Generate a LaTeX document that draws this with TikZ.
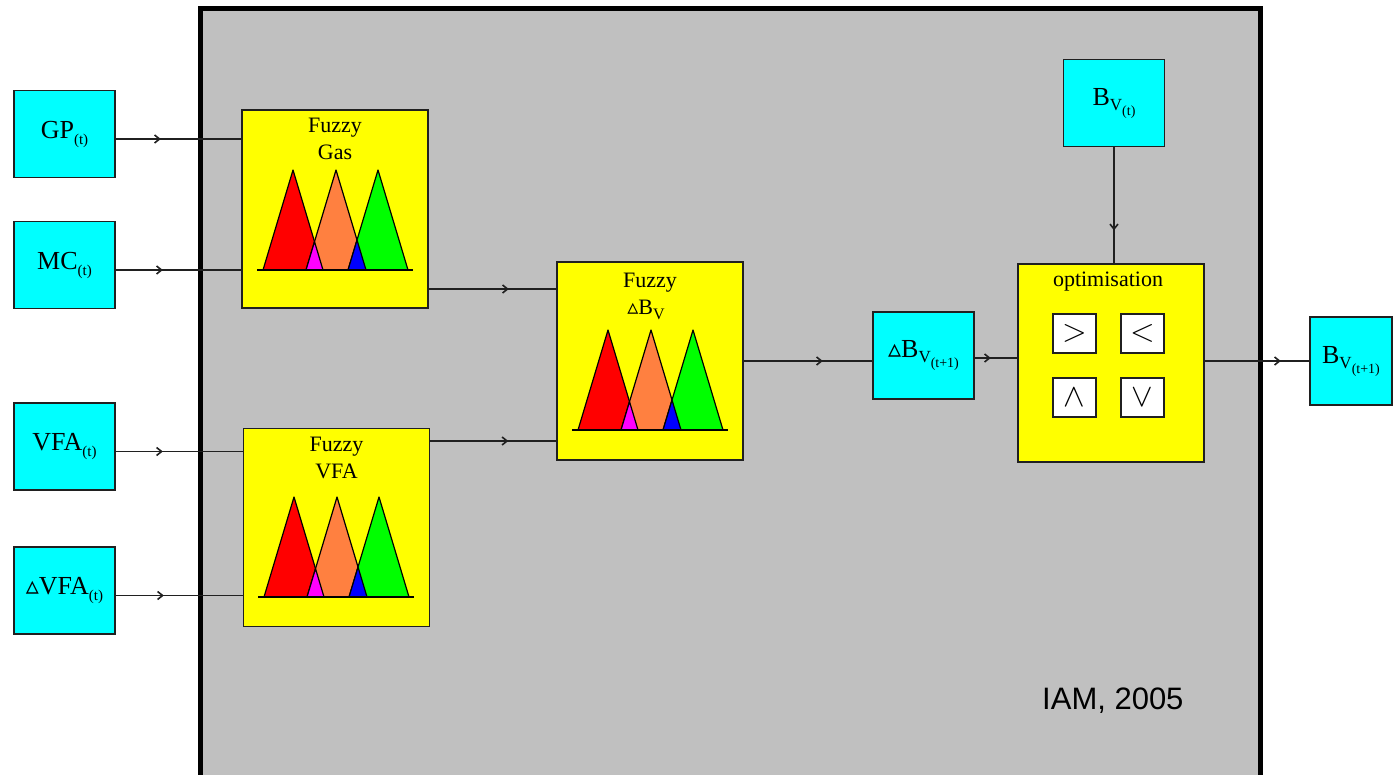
\documentclass[tikz,border=0pt]{standalone}
\usepackage{fontspec}
\usepackage{graphicx}
\setmainfont{Liberation Serif}
\newfontfamily\dejavu{DejaVu Sans}
\newfontfamily\arialf{Liberation Sans}
\usetikzlibrary{arrows.meta,decorations.markings}
\definecolor{cy}{HTML}{00FFFF}
\definecolor{ye}{HTML}{FFFF00}
\definecolor{gr}{HTML}{C0C0C0}
\definecolor{org}{HTML}{FF8040}
\definecolor{grn}{HTML}{00FF00}
\definecolor{mag}{HTML}{FF00FF}
\definecolor{blu}{HTML}{0000FF}
\definecolor{ln}{HTML}{202020}
\newcommand\subsc[1]{\raisebox{-6pt}{\fontsize{15}{15}\selectfont #1}}
\newcommand\dtri{{\dejavu\fontsize{26}{26}\selectfont ▵}}
\newcommand\Bv[1]{B\raisebox{-5pt}{\fontsize{17}{17}\selectfont V}\raisebox{-10pt}{\fontsize{14}{14}\selectfont #1}}
\begin{document}
\begin{tikzpicture}[x=1pt,y=-1pt,
 cyanbox/.style={draw=ln,line width=1.7pt,fill=cy,minimum width=101pt,minimum height=87pt,inner sep=0pt,font=\fontsize{26}{26}\selectfont},
 fzbox/.style={draw=ln,line width=1.7pt,fill=ye,minimum width=186pt,minimum height=198pt,inner sep=0pt},
 wbox/.style={draw=ln,line width=1.5pt,fill=white,minimum width=43pt,minimum height=39pt,inner sep=0pt},
 ttl/.style={anchor=base,inner sep=0pt,font=\fontsize{22}{22}\selectfont},
 conn/.style={draw=ln,line width=1.7pt},
 arr/.style={conn,decoration={markings,mark=at position #1 with {\arrow{Straight Barb[length=5pt,width=8pt,line width=1.6pt]}}},postaction={decorate}},
 tri/.style={draw=black,line width=1.2pt,line join=round},
 tris/.pic={
  \filldraw[tri,fill=red] (6,0)--(36,-100)--(66,0)--cycle;
  \filldraw[tri,fill=org] (49,0)--(79,-100)--(109,0)--cycle;
  \filldraw[tri,fill=grn] (91,0)--(121,-100)--(151,0)--cycle;
  \filldraw[tri,fill=mag] (49,0)--(57.5,-28.33)--(66,0)--cycle;
  \filldraw[tri,fill=blu] (91,0)--(100,-30)--(109,0)--cycle;
  \draw[line width=1.5pt] (0,0)--(156,0);
 }
]
\useasboundingbox (0,0) rectangle (1394,775);
\clip (0,0) rectangle (1394,775);
\fill[white] (0,0) rectangle (1394,775);
\filldraw[fill=gr,draw=black,line width=5pt] (200.5,9) rectangle (1260.5,781);

% inputs
\node[cyanbox] (GP) at (64.5,134) {GP\subsc{(t)}};
\node[cyanbox] (MC) at (64.5,265) {MC\subsc{(t)}};
\node[cyanbox] (VFA) at (64.5,446.5) {VFA\subsc{(t)}};
\node[cyanbox] (dVFA) at (64.5,590.5) {\dtri VFA\subsc{(t)}};
\node[cyanbox] (Bvt) at (1114,103) {\Bv{(t)}};
\node[cyanbox] (dBv1) at (923.5,355.5) {\dtri\Bv{(t+1)}};
\node[cyanbox,minimum width=82pt,minimum height=88pt] (Bv1) at (1351,361) {\Bv{(t+1)}};

% fuzzy blocks
\node[fzbox] (gas) at (335,209) {};
\node[fzbox] (fvfa) at (336.5,527.5) {};
\node[fzbox] (fdbv) at (650,361) {};
\node[fzbox] (opt) at (1111,363) {};

\node[ttl] (gas1) at (335,133) {Fuzzy};
\node[ttl] (gas2) at (335,160) {Gas};
\node[ttl] (vfa1) at (336.5,451) {Fuzzy};
\node[ttl] (vfa2) at (336.5,478) {VFA};
\node[ttl] (dbv1) at (650,288) {Fuzzy};
\node[ttl] (dbv2) at (646,315) {{\dejavu\fontsize{22}{22}\selectfont ▵}B\raisebox{-5pt}{\fontsize{16}{16}\selectfont V}};
\node[ttl] (opt1) at (1108,287) {optimisation};

\pic at (257,270) {tris};
\pic at (258,597) {tris};
\pic at (572,430) {tris};

\node[wbox] (gt) at (1074.5,333.5) {\scalebox{1.3}{\Huge$>$}};
\node[wbox] (lt) at (1142.5,333.5) {\scalebox{1.3}{\Huge$<$}};
\node[wbox] (wd) at (1074.5,397.5) {\scalebox{1.3}{\Huge$\wedge$}};
\node[wbox] (vv) at (1142.5,397.5) {\scalebox{1.3}{\Huge$\vee$}};

% connectors
\draw[arr=45pt] ([yshift=-5pt]GP.east) -- ([yshift=-5pt]GP.east -| gas.west);
\draw[arr=47pt] ([yshift=-5pt]MC.east) -- ([yshift=-5pt]MC.east -| gas.west);
\draw[arr=47pt] ([yshift=-5pt]VFA.east) -- ([yshift=-5pt]VFA.east -| fvfa.west);
\draw[arr=48pt] ([yshift=-5pt]dVFA.east) -- ([yshift=-5pt]dVFA.east -| fvfa.west);
\draw[arr=80pt] ([yshift=-80pt]gas.east) -- ([yshift=-80pt]gas.east -| fdbv.west);
\draw[arr=78pt] ([yshift=86.5pt]fvfa.east) -- ([yshift=86.5pt]fvfa.east -| fdbv.west);
\draw[arr=79pt] (fdbv.east) -- (fdbv.east -| dBv1.west);
\draw[arr=16pt] ([yshift=-2.5pt]dBv1.east) -- ([yshift=-2.5pt]dBv1.east -| opt.west);
\draw[arr=83pt] (Bvt.south) -- (Bvt.south |- opt.north);
\draw[arr=76pt] ([yshift=2pt]opt.east) -- ([yshift=2pt]opt.east -| Bv1.west);

\node[anchor=base west,inner sep=0pt,font=\arialf\fontsize{31}{31}\selectfont] (iam) at (1042,709) {IAM, 2005};
\end{tikzpicture}
\end{document}
